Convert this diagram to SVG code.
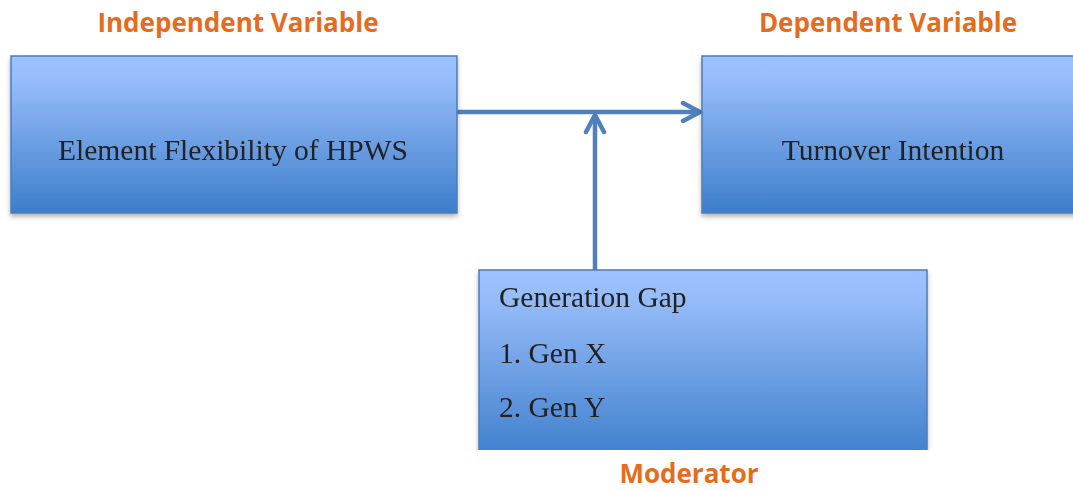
<svg xmlns="http://www.w3.org/2000/svg" width="1073" height="490" viewBox="0 0 1073 490">
<defs>
<linearGradient id="g" x1="0" y1="0" x2="0" y2="1">
<stop offset="0" stop-color="#9CC2FF"/>
<stop offset="0.15" stop-color="#96BCF9"/>
<stop offset="1" stop-color="#3E7ECB"/>
</linearGradient>
<filter id="sh" x="-5%" y="-5%" width="110%" height="120%">
<feGaussianBlur in="SourceAlpha" stdDeviation="2.5"/>
<feOffset dx="0" dy="3" result="b"/>
<feComponentTransfer><feFuncA type="linear" slope="0.3"/></feComponentTransfer>
<feMerge><feMergeNode/><feMergeNode in="SourceGraphic"/></feMerge>
</filter>
<clipPath id="cut"><rect x="0" y="0" width="1073" height="450"/></clipPath>
<marker id="arr" viewBox="0 0 24 24" refX="21" refY="12" markerWidth="24" markerHeight="24" markerUnits="userSpaceOnUse" orient="auto">
<path d="M4,3 L21,12 L4,21" fill="none" stroke="#4F81BD" stroke-width="4.5" stroke-linecap="round" stroke-linejoin="round"/>
</marker>
</defs>
<style>
.box{fill:url(#g);stroke:#4A7EBB;stroke-width:1.5}
.t{font-family:"Liberation Serif","Times New Roman",serif;font-size:29.5px;fill:#222}
.lbl{font-family:"Open Sans","Liberation Sans",sans-serif;font-weight:bold;font-size:26px;fill:#E46C1E}
.c{fill:none;stroke:#4F81BD;stroke-width:4.5}
</style>
<rect width="1073" height="490" fill="#fff"/>
<text class="lbl" x="238" y="32" text-anchor="middle">Independent Variable</text>
<text class="lbl" x="888" y="32" text-anchor="middle">Dependent Variable</text>
<text class="lbl" x="689" y="483" text-anchor="middle">Moderator</text>
<g id="connectors">
<line class="c" x1="457" y1="112" x2="700" y2="112" marker-end="url(#arr)"/>
<line class="c" x1="595" y1="270" x2="595" y2="115" marker-end="url(#arr)"/>
</g>
<g id="node-iv" filter="url(#sh)">
<rect class="box" x="11" y="56" width="446" height="157"/>
<text class="t" x="233" y="160" text-anchor="middle">Element Flexibility of HPWS</text>
</g>
<g id="node-dv" filter="url(#sh)">
<rect class="box" x="702" y="56" width="376" height="157"/>
<text class="t" x="893" y="160" text-anchor="middle">Turnover Intention</text>
</g>
<g id="node-mod" clip-path="url(#cut)">
<g filter="url(#sh)">
<rect class="box" x="479" y="270" width="448" height="190"/>
<text class="t" x="499" y="307">Generation Gap</text>
<text class="t" x="499" y="363">1. Gen X</text>
<text class="t" x="499" y="417">2. Gen Y</text>
</g>
</g>
</svg>
